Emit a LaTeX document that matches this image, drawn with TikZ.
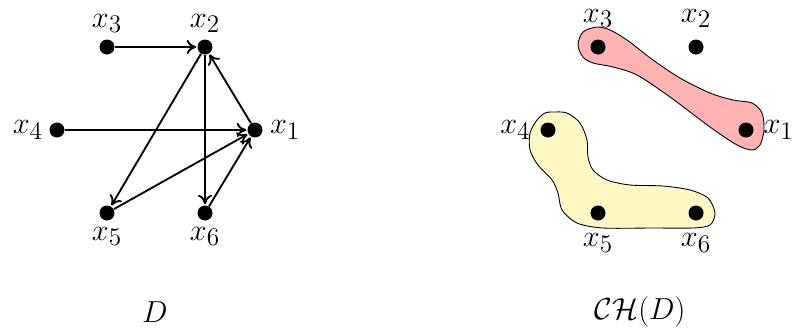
\documentclass[tikz,border=0pt]{standalone}
\usetikzlibrary{arrows.meta}
\definecolor{blobred}{RGB}{255,178,178}
\definecolor{blobyellow}{RGB}{255,248,196}
\begin{document}
\begin{tikzpicture}[x=0.02cm,y=-0.02cm,
  font=\fontsize{19}{23}\selectfont,
  vtx/.style={circle,fill=black,inner sep=0pt,minimum size=0.3cm},
  arc/.style={-{To[length=1.9mm,width=2.8mm]},line width=1.05pt,shorten >=0.5pt},
  blob/.style={draw=black,line width=0.5pt},
  lab/.style={label distance=0cm},
  rabove/.style={label={[label distance=0.1cm]above:{#1}}},
  rbelow/.style={label={[label distance=0.13cm]below:{#1}}},
  rside/.style={label={[label distance=0.07cm]#1}}]
\useasboundingbox (0,0) rectangle (795,332);
% left digraph
\node[vtx,lab,label=above:{$x_3$}] (a3) at (107,47) {};
\node[vtx,lab,label=above:{$x_2$}] (a2) at (205,47) {};
\node[vtx,lab,label=left:{$x_4$}] (a4) at (57,130) {};
\node[vtx,lab,label={[label distance=0.02cm]right:{$x_1$}}] (a1) at (255,130) {};
\node[vtx,lab,label=below:{$x_5$}] (a5) at (107,213) {};
\node[vtx,lab,label=below:{$x_6$}] (a6) at (205,213) {};
\draw[arc] (a3) -- (a2);
\draw[arc] (a1) -- (a2);
\draw[arc] (a2) -- (a5);
\draw[arc] (a2) -- (a6);
\draw[arc] (a4) -- (a1);
\draw[arc] (a5) -- (a1);
\draw[arc] (a6) -- (a1);
\node (dlab) at (155,312) {$D$};
% right hypergraph
\draw[blob,fill=blobred] plot[smooth cycle,tension=0.5] coordinates {
  (578,45) (583,32) (597,27) (610,30) (627,40) (653,60) (680,78) (710,93)
  (733,100) (752,103) (762,113) (764,130) (760,145) (752,150) (737,145)
  (710,127) (670,97) (637,75) (613,67) (593,63) (583,57)};
\draw[blob,fill=blobyellow] plot[smooth cycle,tension=0.5] coordinates {
  (553,112) (567,113) (580,123) (587,140) (588,157) (593,170) (607,180)
  (630,185) (663,186) (690,190) (708,198) (715,213) (710,225) (693,228)
  (653,228) (603,228) (577,223) (562,210) (558,193) (552,180) (538,165)
  (530,150) (530,133) (537,120) (545,113)};
\node[vtx,rabove={$x_3$}] (b3) at (598,47) {};
\node[vtx,rabove={$x_2$}] (b2) at (696,47) {};
\node[vtx,rside={left:{$x_4$}}] (b4) at (548,130) {};
\node[vtx,rside={right:{$x_1$}}] (b1) at (746,130) {};
\node[vtx,rbelow={$x_5$}] (b5) at (598,213) {};
\node[vtx,rbelow={$x_6$}] (b6) at (696,213) {};
\node (chlab) at (640,312) {$\mathcal{CH}(D)$};
\end{tikzpicture}
\end{document}
